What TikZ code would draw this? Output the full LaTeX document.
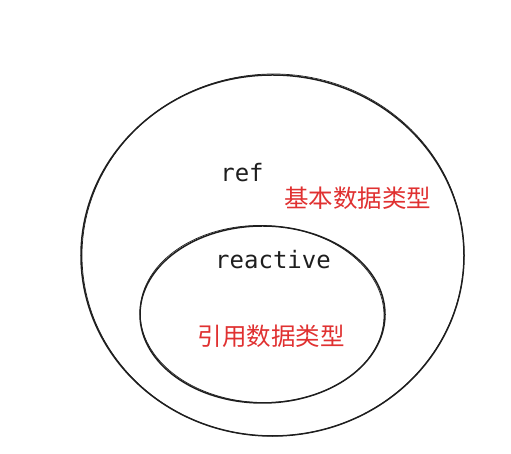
\documentclass[tikz,border=0pt]{standalone}
\usepackage{fontspec}
\setmonofont{DejaVu Sans Mono}
\newfontfamily\cjk{Noto Sans CJK SC}
\usetikzlibrary{shapes.geometric}
\definecolor{sketchred}{HTML}{E03131}
\definecolor{ink}{HTML}{1E1E1E}
\tikzset{
  set/.style={draw=ink,line width=1.5bp,ellipse,inner sep=0pt},
  code/.style={inner sep=0pt,anchor=base,text=ink,font=\fontsize{24bp}{28bp}\selectfont\ttfamily},
  kind/.style={inner sep=0pt,text=sketchred,font=\fontsize{24.5bp}{28bp}\selectfont\cjk}
}
\begin{document}
\begin{tikzpicture}[x=1bp,y=1bp]
        \useasboundingbox (0,0) rectangle (511,454);
        \node[set,minimum width=383bp,minimum height=361bp] (outer) at (272.5,198.5){};
        \node[set,minimum width=245bp,minimum height=177bp] (inner) at (262.5,139.5){};
        \draw[ink,line width=0.7bp,rotate around={1.5:(272.5,198.5)}] (273,199) ellipse [x radius=191,y radius=181];
        \draw[ink,line width=0.7bp,rotate around={-1.5:(262.5,139.5)}] (262,140) ellipse [x radius=122,y radius=88.5];

        \node[code] (ref) at (242,272.5){ref};
        \node[kind] (refkind) at (357.5,255.3){基本数据类型};
        \node[code] (reactive) at (273,185.7){reactive};
        \node[kind] (reactivekind) at (271.3,118.2){引用数据类型};
    \end{tikzpicture}
\end{document}
